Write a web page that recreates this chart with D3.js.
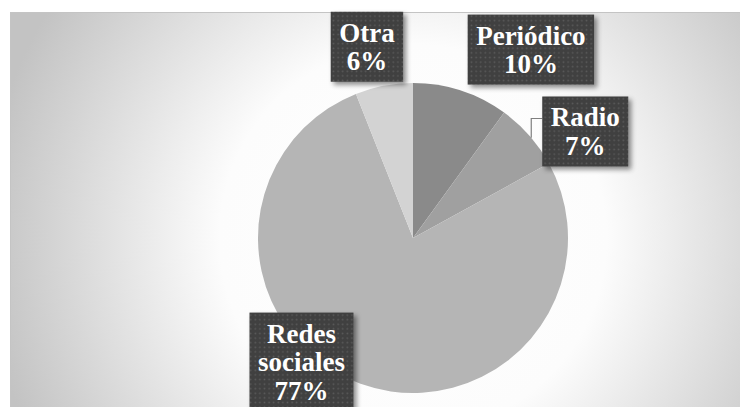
<!DOCTYPE html>
<html>
<head>
<meta charset="utf-8">
<script src="https://cdn.jsdelivr.net/npm/d3@7"></script>
<style>
  html, body { margin: 0; padding: 0; background: #fff; }
  svg { display: block; }
  .lbl { font-family: 'Liberation Serif', 'Times New Roman', serif; font-weight: bold; }
</style>
</head>
<body>
<div class="svg-container"></div>
<script>
// chart data
const categories = ['Periódico', 'Radio', 'Redes sociales', 'Otra'];
const values = [10, 7, 77, 6];
const labelLines = [['Periódico', '10%'], ['Radio', '7%'], ['Redes', 'sociales', '77%'], ['Otra', '6%']];

const renderPie = () => {
  // set up required dimensions
  const width = 740;
  const height = 407;
  const cx = 413;
  const cy = 238;
  const radius = 155;
  const fontSize = 27;
  const lineHeight = 28.5;
  const padX = 8.5;
  const padY = 6.5;
  const sliceColors = ['#8a8a8a', '#a0a0a0', '#b5b5b5', '#d3d3d3'];
  // label box centre, relative to the outer point of each slice
  const labelOffsets = [[70, -41], [56, -4], [-59, -22], [-17, -39]];

  const svg = d3.select('.svg-container')
    .append('svg')
    .attr('width', width)
    .attr('height', height);

  const defs = svg.append('defs');

  // radial background
  const bg = defs.append('radialGradient')
    .attr('id', 'bg')
    .attr('gradientUnits', 'userSpaceOnUse')
    .attr('cx', cx).attr('cy', cy).attr('r', 430);
  bg.append('stop').attr('offset', 0).attr('stop-color', '#ffffff');
  bg.append('stop').attr('offset', 0.45).attr('stop-color', '#fcfcfc');
  bg.append('stop').attr('offset', 1).attr('stop-color', '#c3c3c3');

  // dotted fill for the label boxes
  const pattern = defs.append('pattern')
    .attr('id', 'dots')
    .attr('patternUnits', 'userSpaceOnUse')
    .attr('width', 4.6).attr('height', 4.6);
  pattern.append('rect').attr('width', 4.6).attr('height', 4.6).attr('fill', '#3f3f3f');
  pattern.append('rect').attr('x', 1.5).attr('y', 1.5).attr('width', 1.6).attr('height', 1.6).attr('fill', '#5c5c5c');

  const shadow = defs.append('filter')
    .attr('id', 'shadow')
    .attr('x', '-20%').attr('y', '-20%').attr('width', '150%').attr('height', '150%');
  shadow.append('feDropShadow')
    .attr('dx', 3).attr('dy', 3).attr('stdDeviation', 2.5)
    .attr('flood-color', '#000').attr('flood-opacity', 0.45);

  // chart area
  svg.append('rect')
    .attr('x', 10.5).attr('y', 12.5)
    .attr('width', width).attr('height', height)
    .attr('fill', 'url(#bg)')
    .attr('stroke', '#c4c4c4')
    .attr('stroke-width', 1);

  const pie = d3.pie().sort(null).value(d => d);
  const arcs = pie(values);
  const arc = d3.arc().innerRadius(0).outerRadius(radius);

  const g = svg.append('g').attr('transform', `translate(${cx},${cy})`);

  g.selectAll('path')
    .data(arcs)
    .enter()
    .append('path')
    .attr('d', arc)
    .attr('fill', (d, i) => sliceColors[i]);

  // measure text to size the boxes
  const measure = svg.append('text')
    .attr('class', 'lbl')
    .style('font-size', fontSize + 'px');
  const textWidth = s => { measure.text(s); return measure.node().getComputedTextLength(); };

  const labels = arcs.map((d, i) => {
    const mid = (d.startAngle + d.endAngle) / 2;
    const ox = cx + radius * Math.sin(mid);
    const oy = cy - radius * Math.cos(mid);
    const lines = labelLines[i];
    const w = d3.max(lines, textWidth) + padX * 2;
    const h = lines.length * lineHeight + padY * 2;
    const lx = ox + labelOffsets[i][0];
    const ly = oy + labelOffsets[i][1];
    return { name: categories[i], lines, x: lx - w / 2, y: ly - h / 2, w, h, ox, oy };
  });
  measure.remove();

  // leader line for Radio
  const r = labels[1];
  const lineX = r.x - 11;
  const pieY = cy - Math.sqrt(radius * radius - (lineX - cx) * (lineX - cx));
  svg.append('path')
    .attr('d', `M${r.x},${r.y + 22}H${lineX}V${pieY}`)
    .attr('fill', 'none')
    .attr('stroke', '#7f7f7f')
    .attr('stroke-width', 1.2);

  const boxes = svg.append('g')
    .selectAll('g')
    .data(labels)
    .enter()
    .append('g');

  boxes.append('rect')
    .attr('x', d => d.x).attr('y', d => d.y)
    .attr('width', d => d.w).attr('height', d => d.h)
    .attr('fill', 'url(#dots)')
    .attr('filter', 'url(#shadow)');

  boxes.each(function(d) {
    d3.select(this).selectAll('text')
      .data(d.lines)
      .enter()
      .append('text')
      .attr('class', 'lbl')
      .attr('x', d.x + d.w / 2)
      .attr('y', (s, j) => d.y + padY + 23.5 + j * lineHeight)
      .attr('text-anchor', 'middle')
      .style('font-size', fontSize + 'px')
      .attr('fill', '#ffffff')
      .text(s => s);
  });
};

renderPie();
</script>
</body>
</html>
